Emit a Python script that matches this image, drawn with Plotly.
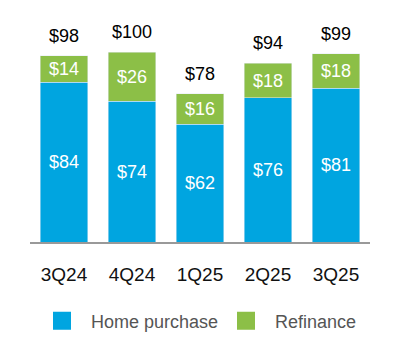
import plotly.graph_objects as go

quarters = ["3Q24", "4Q24", "1Q25", "2Q25", "3Q25"]
home_purchase = [84, 74, 62, 76, 81]
refinance = [14, 26, 16, 18, 18]
totals = [h + r for h, r in zip(home_purchase, refinance)]

BLUE = "#00A5E0"
GREEN = "#8CBF47"
FONT = "Liberation Sans, Arial, Helvetica, sans-serif"

fig = go.Figure()
fig.add_trace(go.Bar(
    x=quarters, y=home_purchase, name="Home purchase", marker_color=BLUE,
    width=0.7, text=[f"${v}" for v in home_purchase], textposition="inside",
    insidetextanchor="middle", constraintext="none",
    textfont=dict(color="white", size=18, family=FONT), showlegend=False,
))
fig.add_trace(go.Bar(
    x=quarters, y=refinance, name="Refinance", marker_color=GREEN,
    width=0.7, text=[f"${v}" for v in refinance], textposition="inside",
    insidetextanchor="middle", constraintext="none",
    textfont=dict(color="white", size=18, family=FONT), showlegend=False,
))
# legend entries
fig.add_trace(go.Scatter(x=[None], y=[None], mode="markers", name="Home purchase",
                         marker=dict(symbol="square", size=16, color=BLUE,
                                     line=dict(color=BLUE, width=2)),
                         legend="legend"))
fig.add_trace(go.Scatter(x=[None], y=[None], mode="markers", name="Refinance",
                         marker=dict(symbol="square", size=16, color=GREEN,
                                     line=dict(color=GREEN, width=2)),
                         legend="legend2"))

for q, t in zip(quarters, totals):
    fig.add_annotation(x=q, y=t, text=f"${t}", showarrow=False, yanchor="bottom",
                       yshift=8, font=dict(size=18, color="#000", family=FONT))

fig.update_layout(
    width=400, height=364,
    margin=dict(l=30, r=30, t=14, b=122),
    barmode="stack",
    plot_bgcolor="white", paper_bgcolor="white",
    font=dict(family=FONT),
    xaxis=dict(showline=True, linecolor="#999999", linewidth=2, ticks="",
               tickfont=dict(size=19, color="#111"), ticklabelstandoff=14,
               range=[-0.5, 4.5], showgrid=False),
    yaxis=dict(visible=False, range=[0, 120], showgrid=False),
    legend=dict(orientation="h", xref="container", yref="container",
                x=33/400, y=1-321/364, xanchor="left", yanchor="middle",
                itemwidth=48, font=dict(size=18, color="#555"), bgcolor="rgba(0,0,0,0)"),
    legend2=dict(orientation="h", xref="container", yref="container",
                 x=217/400, y=1-321/364, xanchor="left", yanchor="middle",
                 itemwidth=48, font=dict(size=18, color="#555"), bgcolor="rgba(0,0,0,0)"),
)

fig.write_html("out.html", config={"displayModeBar": False},
               post_script="document.body.style.margin='0';")
